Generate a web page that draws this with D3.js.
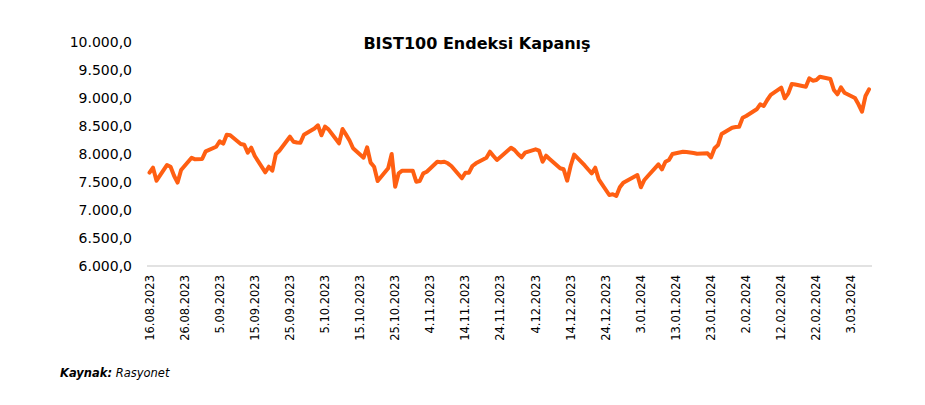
<!DOCTYPE html>
<html>
<head>
<meta charset="utf-8">
<script src="https://cdn.jsdelivr.net/npm/d3@7"></script>
<style>
  body { margin: 0; background: #fff; }
  #graf { width: 925px; height: 405px; }
  .axis text { font-family: "DejaVu Sans", sans-serif; fill: #000; }
</style>
</head>
<body>
<div id="graf"></div>
<script>
// Datos
const tarih = [
  "16.08.2023","17.08.2023","18.08.2023","21.08.2023","22.08.2023","23.08.2023","24.08.2023","25.08.2023",
  "28.08.2023","29.08.2023","31.08.2023","1.09.2023","4.09.2023","5.09.2023","6.09.2023","7.09.2023","8.09.2023",
  "11.09.2023","12.09.2023","13.09.2023","14.09.2023","15.09.2023","18.09.2023","19.09.2023","20.09.2023",
  "21.09.2023","22.09.2023","25.09.2023","26.09.2023","27.09.2023","28.09.2023","29.09.2023",
  "2.10.2023","3.10.2023","4.10.2023","5.10.2023","6.10.2023","9.10.2023","10.10.2023","11.10.2023",
  "12.10.2023","13.10.2023","16.10.2023","17.10.2023","18.10.2023","19.10.2023","20.10.2023",
  "23.10.2023","24.10.2023","25.10.2023","26.10.2023","27.10.2023","30.10.2023","31.10.2023",
  "1.11.2023","2.11.2023","3.11.2023","6.11.2023","7.11.2023","8.11.2023","9.11.2023","10.11.2023",
  "13.11.2023","14.11.2023","15.11.2023","16.11.2023","17.11.2023","20.11.2023","21.11.2023","22.11.2023",
  "23.11.2023","24.11.2023","27.11.2023","28.11.2023","29.11.2023","30.11.2023","1.12.2023",
  "4.12.2023","5.12.2023","6.12.2023","7.12.2023","8.12.2023","11.12.2023","12.12.2023","13.12.2023",
  "14.12.2023","15.12.2023","18.12.2023","19.12.2023","20.12.2023","21.12.2023","22.12.2023",
  "25.12.2023","26.12.2023","27.12.2023","28.12.2023","29.12.2023",
  "2.01.2024","3.01.2024","4.01.2024","5.01.2024","8.01.2024","9.01.2024","10.01.2024","11.01.2024","12.01.2024",
  "15.01.2024","16.01.2024","17.01.2024","18.01.2024","19.01.2024","22.01.2024","23.01.2024","24.01.2024",
  "25.01.2024","26.01.2024","29.01.2024","30.01.2024","31.01.2024","1.02.2024","2.02.2024",
  "5.02.2024","6.02.2024","7.02.2024","8.02.2024","9.02.2024","12.02.2024","13.02.2024","14.02.2024",
  "15.02.2024","16.02.2024","19.02.2024","20.02.2024","21.02.2024","22.02.2024","23.02.2024",
  "26.02.2024","27.02.2024","28.02.2024","29.02.2024","1.03.2024","4.03.2024","5.03.2024","6.03.2024",
  "7.03.2024","8.03.2024"
]

const kapanis = [
  7666, 7755, 7523, 7804, 7773, 7612, 7490, 7714,
  7934, 7905, 7911, 8048, 8130, 8227, 8184, 8345, 8334,
  8178, 8166, 8023, 8112, 7964, 7673, 7773, 7702,
  8000, 8059, 8309, 8220, 8205, 8202, 8345,
  8455, 8512, 8334, 8488, 8440, 8191, 8446, 8346,
  8241, 8102, 7934, 8120, 7845, 7773, 7518,
  7745, 8000, 7416, 7655, 7702, 7702, 7505,
  7518, 7655, 7684, 7862, 7852, 7862, 7834, 7786,
  7566, 7666, 7666, 7786, 7834, 7934, 8041, 7964,
  7893, 7946, 8112, 8071, 8000, 7941, 8023,
  8084, 8059, 7862, 7970, 7911, 7745, 7727, 7523,
  7790, 7990, 7795, 7723, 7655, 7755, 7548,
  7268, 7280, 7250, 7405, 7488,
  7625, 7405, 7536, 7607, 7816, 7727, 7862, 7893, 8000,
  8041, 8035, 8027, 8018, 8005, 8012, 7941, 8102,
  8161, 8357, 8470, 8482, 8488, 8648, 8679,
  8798, 8887, 8857, 8964, 9054, 9184, 8995, 9084,
  9250, 9241, 9202, 9352, 9309, 9321, 9380,
  9339, 9143, 9066, 9191, 9095, 9000, 8887, 8755,
  9036, 9155
]

const xTicks = [
  "16.08.2023","26.08.2023","5.09.2023","15.09.2023","25.09.2023","5.10.2023","15.10.2023",
  "25.10.2023","4.11.2023","14.11.2023","24.11.2023","4.12.2023","14.12.2023","24.12.2023",
  "3.01.2024","13.01.2024","23.01.2024","2.02.2024","12.02.2024","22.02.2024","3.03.2024"
]

const yTicks = [6000, 6500, 7000, 7500, 8000, 8500, 9000, 9500, 10000]

const draw = () => {
  const graf = d3.select("#graf")
  const parse = d3.timeParse("%d.%m.%Y")
  const dataset = tarih.map((t, i) => ({ fecha: parse(t), valor: kapanis[i] }))

  // Dimensiones
  const anchoTotal = 925
  const altoTotal = 405

  // Accessors
  const xAccessor = (d) => d.fecha
  const yAccessor = (d) => d.valor

  // Escaladores
  const x = d3
    .scaleTime()
    .domain(d3.extent(dataset, xAccessor))
    .range([149.5, 869])

  const y = d3
    .scaleLinear()
    .domain([6000, 10000])
    .range([266, 42])

  const svg = graf
    .append("svg")
    .attr("width", anchoTotal)
    .attr("height", altoTotal)

  // Formato
  const tr = d3.formatLocale({ decimal: ",", thousands: ".", grouping: [3], currency: ["", ""] })
  const formatY = tr.format(",.1f")

  // Eje Y (solo etiquetas)
  const yAxisGroup = svg
    .append("g")
    .attr("transform", "translate(132, 0)")
    .call(d3.axisLeft(y).tickValues(yTicks).tickSize(0).tickPadding(0).tickFormat(formatY))
    .classed("axis", true)
  yAxisGroup.select(".domain").remove()
  yAxisGroup.selectAll("text").style("font-size", "14px")

  // Eje X
  const xAxisGroup = svg
    .append("g")
    .attr("transform", "translate(0, 266)")
    .call(d3.axisBottom(x).tickValues(xTicks.map(parse)).tickSize(0).tickFormat(d3.timeFormat("%-d.%m.%Y")))
    .classed("axis", true)
  xAxisGroup.select(".domain").remove()
  xAxisGroup
    .append("line")
    .attr("x1", x.range()[0] - 2.5)
    .attr("x2", x.range()[1] + 3)
    .attr("stroke", "#d9d9d9")
    .attr("stroke-width", 1.5)
  xAxisGroup
    .selectAll("text")
    .style("font-size", "11.5px")
    .attr("text-anchor", "end")
    .attr("dominant-baseline", "middle")
    .attr("transform", "rotate(-90)")
    .attr("x", -9)
    .attr("y", 0)
    .attr("dy", null)

  // Línea
  svg
    .append("path")
    .datum(dataset)
    .attr("fill", "none")
    .attr("stroke", "#ff5f12")
    .attr("stroke-width", 4)
    .attr("stroke-linejoin", "round")
    .attr("stroke-linecap", "round")
    .attr("d", d3.line().x((d) => x(xAccessor(d))).y((d) => y(yAccessor(d))))

  // Título
  svg
    .append("text")
    .attr("x", 477)
    .attr("y", 49)
    .attr("text-anchor", "middle")
    .style("font-family", "DejaVu Sans, sans-serif")
    .style("font-weight", "bold")
    .style("font-size", "16px")
    .text("BIST100 Endeksi Kapanış")

  // Fuente
  const kaynak = svg
    .append("text")
    .attr("x", 60)
    .attr("y", 377)
    .style("font-family", "DejaVu Sans, sans-serif")
    .style("font-style", "italic")
    .style("font-size", "11.5px")
  kaynak.append("tspan").style("font-weight", "bold").text("Kaynak:")
  kaynak.append("tspan").text(" Rasyonet")
}

draw()
</script>
</body>
</html>
